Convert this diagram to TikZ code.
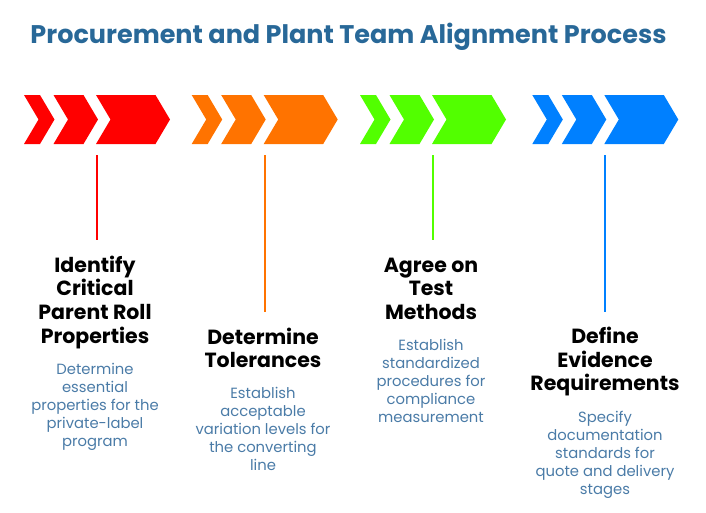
\documentclass[tikz,border=0pt]{standalone}
\usepackage{fontspec}
\setmainfont{Poppins}
\definecolor{titleblue}{RGB}{40,104,152}
\definecolor{descblue}{RGB}{74,123,167}
\definecolor{cred}{RGB}{255,0,0}
\definecolor{corange}{RGB}{255,115,0}
\definecolor{cgreen}{RGB}{82,255,0}
\definecolor{cblue}{RGB}{0,128,255}
\newcommand{\chevgroup}[2]{%
  \foreach \l/\r in {0/16,29.5/59.5,72/131.5}{
    \fill[#2] ({#1+\l},95) -- ({#1+\r},95) -- ({#1+\r+14.5},119.5) -- ({#1+\r},144) -- ({#1+\l},144) -- ({#1+\l+14.5},119.5) -- cycle;
  }}
\tikzset{
  steptitle/.style={anchor=base, align=center, inner sep=0pt, font=\fontsize{20.5}{23.6}\selectfont\bfseries, text=black},
  stepdesc/.style={anchor=base, align=center, inner sep=0pt, font=\fontsize{14.8}{18}\selectfont, text=descblue},
  stemline/.style={line width=2pt}
}
\begin{document}
\begin{tikzpicture}[x=1pt,y=-1pt]
\useasboundingbox (0,0) rectangle (706,512);
\node[anchor=base, inner sep=0pt, font=\fontsize{25.5}{30}\selectfont\bfseries, text=titleblue] (title) at (348.5,43.3) {Procurement and Plant Team Alignment Process};
\chevgroup{24}{cred}
\chevgroup{191.7}{corange}
\chevgroup{360}{cgreen}
\chevgroup{532.3}{cblue}
% stems
\coordinate (s1a) at (97,155); \coordinate (s1b) at (97,240);
\coordinate (s2a) at (265,155); \coordinate (s2b) at (265,312);
\coordinate (s3a) at (432.7,155); \coordinate (s3b) at (432.7,240);
\coordinate (s4a) at (605.3,155); \coordinate (s4b) at (605.3,312);
\draw[stemline, cred] (s1a) -- (s1b);
\draw[stemline, corange] (s2a) -- (s2b);
\draw[stemline, cgreen] (s3a) -- (s3b);
\draw[stemline, cblue] (s4a) -- (s4b);
% texts (anchor base = baseline of last line)
\node[steptitle] (t1) at (95,343) {Identify\\Critical\\Parent Roll\\Properties};
\node[stepdesc] (d1) at (95,446) {Determine\\essential\\properties for the\\private-label\\program};
\node[steptitle] (t2) at (263,367.7) {Determine\\Tolerances};
\node[stepdesc] (d2) at (263,470.3) {Establish\\acceptable\\variation levels for\\the converting\\line};
\node[steptitle] (t3) at (431,319.5) {Agree on\\Test\\Methods};
\node[stepdesc] (d3) at (431,422) {Establish\\standardized\\procedures for\\compliance\\measurement};
\node[steptitle] (t4) at (605,390.7) {Define\\Evidence\\Requirements};
\node[stepdesc] (d4) at (605,494.7) {Specify\\documentation\\standards for\\quote and delivery\\stages};
\end{tikzpicture}
\end{document}
